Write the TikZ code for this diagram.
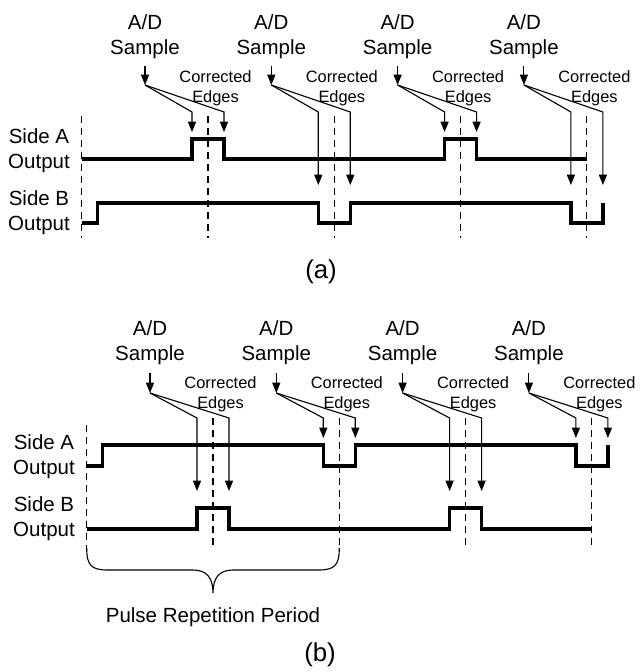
\documentclass[tikz,border=0pt]{standalone}
\usepackage{fontspec}
\setmainfont{Liberation Sans}
\usepackage{tikz}
\usetikzlibrary{arrows.meta}

\begin{document}
\begin{tikzpicture}[
  x=0.3mm, y=-0.3mm,
  lbl/.style={font=\fontsize{17.5}{21.3}\selectfont, align=center, inner sep=0pt},
  small/.style={font=\fontsize{14}{17}\selectfont, align=center, inner sep=0pt},
  panel/.style={font=\fontsize{22}{26}\selectfont, inner sep=0pt},
  arr/.style={-{Triangle[length=3.1mm,width=2.4mm]}, line width=0.95pt},
  sig/.style={line width=2.8pt, line join=miter},
  guide/.style={line width=0.9pt, dash pattern=on 2.1mm off 1.5mm}]

\useasboundingbox (0,0) rectangle (642,672);

% (a)
\node[lbl, anchor=east] (sideAa) at (70,151) {Side A\\Output};
\node[lbl, anchor=east] (sideBa) at (70,213) {Side B\\Output};
\draw[guide] (81.7,116) -- (81.7,238);
\foreach \k/\s/\ty in {0/145/132, 1/271.3/185, 2/397.6/132, 3/523.9/185} {
  \node[lbl] (adA\k) at (\s,37) {A/D\\Sample};
  \node[small] (ceA\k) at (\s+70.5,88.7) {Corrected\\Edges};
  \coordinate (jA\k) at (\s,85);
  \draw[arr, shorten <=2mm] (adA\k) -- (jA\k);
  \draw[arr] (jA\k) -- ++(47,27) -- ++(0,\ty-112);
  \draw[arr] (jA\k) -- ++(79,27) -- ++(0,\ty-112);
  \draw[guide] (\s+63,116) -- (\s+63,238);
}
\draw[sig] (81.7,159) -- (192,159) -- (192,139) -- (224,139) -- (224,159)
  -- (444.6,159) -- (444.6,139) -- (476.6,139) -- (476.6,159) -- (586.9,159);
\draw[sig] (81.7,223) -- (97.7,223) -- (97.7,203) -- (318.3,203) -- (318.3,223)
  -- (350.3,223) -- (350.3,203) -- (570.9,203) -- (570.9,223) -- (602.9,223) -- (602.9,203);
\node[panel] (capa) at (321,272) {(a)};

% (b)
\node[lbl, anchor=east] (sideAb) at (75,457) {Side A\\Output};
\node[lbl, anchor=east] (sideBb) at (75,519) {Side B\\Output};
\draw[guide] (86.7,425) -- (86.7,548);
\foreach \k/\s/\ty/\bot in {0/150/491/545, 1/276.3/438/548, 2/402.6/491/545, 3/528.9/438/545} {
  \node[lbl] (adB\k) at (\s,343) {A/D\\Sample};
  \node[small] (ceB\k) at (\s+70.5,394.7) {Corrected\\Edges};
  \coordinate (jB\k) at (\s,393);
  \draw[arr, shorten <=2.3mm] (adB\k) -- (jB\k);
  \draw[arr] (jB\k) -- ++(47,25) -- ++(0,\ty-418);
  \draw[arr] (jB\k) -- ++(79,25) -- ++(0,\ty-418);
  \draw[guide] (\s+63,418) -- (\s+63,\bot);
}
\draw[sig] (86.7,466) -- (102.7,466) -- (102.7,445) -- (323.3,445) -- (323.3,466)
  -- (355.3,466) -- (355.3,445) -- (575.9,445) -- (575.9,466) -- (607.9,466) -- (607.9,445);
\draw[sig] (86.7,529) -- (197,529) -- (197,508) -- (229,508) -- (229,529)
  -- (449.6,529) -- (449.6,508) -- (481.6,508) -- (481.6,529) -- (591.9,529);

\draw[line width=0.95pt] (86.7,548) .. controls (86.7,566) and (92,570) .. (108,570) -- (193,570)
  .. controls (207,570) and (213,578) .. (213,593)
  .. controls (213,578) and (219,570) .. (233,570) -- (318,570)
  .. controls (334,570) and (339.3,566) .. (339.3,548);
\node[lbl] (prp) at (213,617) {Pulse Repetition Period};
\node[panel] (capb) at (320,655) {(b)};
\end{tikzpicture}
\end{document}
